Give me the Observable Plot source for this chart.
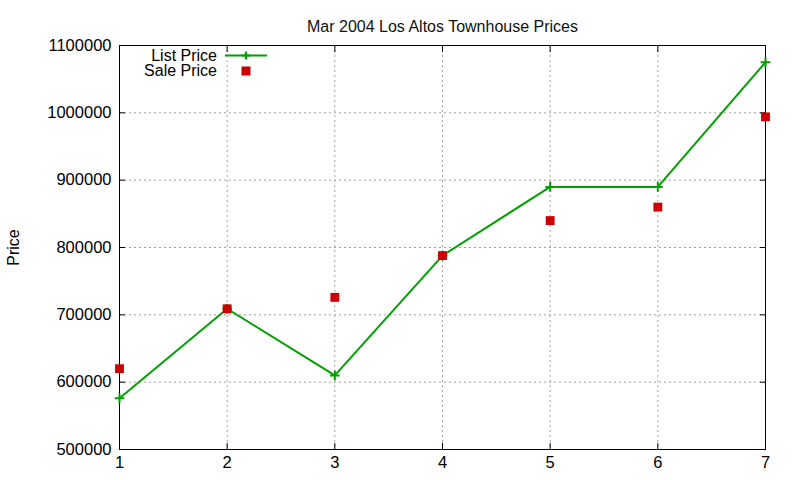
<!DOCTYPE html>
<html>
<head>
<meta charset="utf-8">
<script src="https://cdn.jsdelivr.net/npm/d3@7"></script>
<script src="https://cdn.jsdelivr.net/npm/@observablehq/plot@0.6"></script>
<style>
  html, body { margin: 0; padding: 0; background: #fff; }
  #chart svg { display: block; }
</style>
</head>
<body>
<div id="chart"></div>
<script>
// Data
const months = [1, 2, 3, 4, 5, 6, 7];
const listPrice = [576000, 709000, 610000, 788000, 890000, 890000, 1075000];
const salePrice = [620000, 709000, 726000, 788000, 840000, 860000, 994000];
const yTicks = [500000, 600000, 700000, 800000, 900000, 1000000, 1100000];
const xTicks = [1, 2, 3, 4, 5, 6, 7];
const titleText = "Mar 2004 Los Altos Townhouse Prices";
const yLabel = "Price";
const seriesNames = ["List Price", "Sale Price"];

const listData = months.map((m, i) => ({month: m, price: listPrice[i]}));
const saleData = months.map((m, i) => ({month: m, price: salePrice[i]}));

const green = "#00a000";
const red = "#cc0000";
const font = "'Liberation Sans', Arial, sans-serif";

const plot = Plot.plot({
  width: 800,
  height: 480,
  marginLeft: 119,
  marginRight: 35,
  marginTop: 45,
  marginBottom: 31,
  style: {fontFamily: font, fontSize: "16px", color: "#000", background: "#fff"},
  x: {domain: [1, 7], ticks: xTicks},
  y: {domain: [500000, 1100000], ticks: yTicks},
  marks: [
    Plot.gridX(xTicks, {stroke: "#a0a0a0", strokeOpacity: 1, strokeDasharray: "2,3"}),
    Plot.gridY(yTicks, {stroke: "#a0a0a0", strokeOpacity: 1, strokeDasharray: "2,3"}),
    Plot.axisY(yTicks, {anchor: "left", tickSize: -6, tickPadding: 14, tickFormat: d3.format("d"), label: null, fontSize: 16.5}),
    Plot.axisY(yTicks, {anchor: "right", tickSize: -6, tickFormat: () => "", label: null}),
    Plot.axisX(xTicks, {anchor: "bottom", tickSize: -6, tickPadding: 13, tickFormat: d3.format("d"), label: null, fontSize: 16.5}),
    Plot.axisX(xTicks, {anchor: "top", tickSize: -6, tickFormat: () => "", label: null}),
    Plot.frame({stroke: "#000", strokeWidth: 1}),
    Plot.line(listData, {x: "month", y: "price", stroke: green, strokeWidth: 2}),
    Plot.dot(listData, {x: "month", y: "price", symbol: "plus", stroke: green, strokeWidth: 2, r: 3.2}),
    Plot.dot(saleData, {x: "month", y: "price", symbol: "square", fill: red, stroke: "none", r: 5}),
    Plot.text([titleText], {frameAnchor: "top", dy: -25, fontSize: 16, fill: "#111"}),
    Plot.text([yLabel], {frameAnchor: "left", textAnchor: "middle", dx: -106, rotate: -90, fontSize: 16, fill: "#000"})
  ]
});

// Legend (inside plot area, top-left)
const svg = d3.select(plot);
const lg = svg.append("g").attr("font-family", font).attr("font-size", 16);
const legendRows = [
  {name: seriesNames[0], y: 55.5, kind: "line"},
  {name: seriesNames[1], y: 71, kind: "square"}
];
for (const row of legendRows) {
  lg.append("text").attr("x", 217).attr("y", row.y).attr("dy", "0.32em")
    .attr("text-anchor", "end").attr("fill", "#000").text(row.name);
  if (row.kind === "line") {
    lg.append("line").attr("x1", 225).attr("x2", 267).attr("y1", row.y).attr("y2", row.y)
      .attr("stroke", green).attr("stroke-width", 2);
    lg.append("path").attr("d", `M${246 - 4},${row.y}h8M246,${row.y - 4}v8`)
      .attr("stroke", green).attr("stroke-width", 2);
  } else {
    lg.append("rect").attr("x", 246 - 4.5).attr("y", row.y - 4.5).attr("width", 9).attr("height", 9)
      .attr("fill", red);
  }
}

document.getElementById("chart").appendChild(plot);
</script>
</body>
</html>
